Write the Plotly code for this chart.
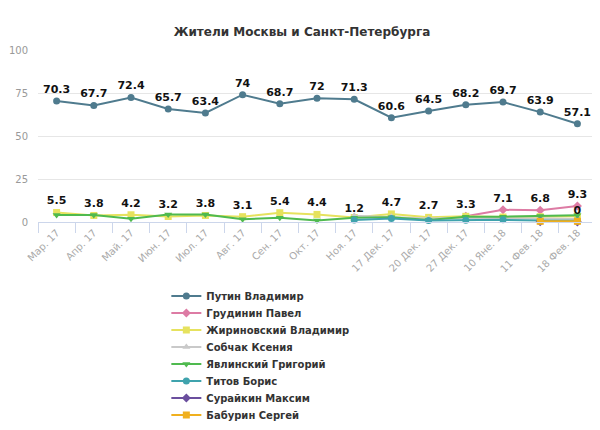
import plotly.graph_objects as go

categories = ["Мар. 17", "Апр. 17", "Май. 17", "Июн. 17", "Июл. 17", "Авг. 17", "Сен. 17",
              "Окт. 17", "Ноя. 17", "17 Дек. 17", "20 Дек. 17", "27 Дек. 17",
              "10 Яне. 18", "11 Фев. 18", "18 Фев. 18"]

N = None
putin = [70.3, 67.7, 72.4, 65.7, 63.4, 74, 68.7, 72, 71.3, 60.6, 64.5, 68.2, 69.7, 63.9, 57.1]
grudinin = [N, N, N, N, N, N, N, N, N, N, N, 3.3, 7.1, 6.8, 9.3]
zhirinovsky = [5.5, 3.8, 4.2, 3.2, 3.8, 3.1, 5.4, 4.4, 2.6, 4.7, 2.7, 3.3, 2.9, 3.1, 3.3]
sobchak = [N, N, N, N, N, N, N, N, 3.6, 3.0, 2.0, 2.4, 2.0, 2.0, 1.8]
yavlinsky = [4.0, 4.0, 1.9, 4.4, 4.4, 1.6, 2.5, 0.8, 2.4, 2.7, 1.2, 3.1, 3.1, 3.5, 3.9]
titov = [N, N, N, N, N, N, N, N, 1.2, 2.1, 0.9, 1.0, 1.3, 0.8, 0.7]
suraykin = [N, N, N, N, N, N, N, N, N, N, N, N, N, 0.2, 0]
baburin = [N, N, N, N, N, N, N, N, N, N, N, N, N, 0.4, 0.4]

series_names = ["Путин Владимир", "Грудинин Павел", "Жириновский Владимир", "Собчак Ксения",
                "Явлинский Григорий", "Титов Борис", "Сурайкин Максим", "Бабурин Сергей"]

# which points carry a visible data label
putin_labels = [str(v) for v in putin]
zhir_labels = ["5.5", "3.8", "4.2", "3.2", "3.8", "3.1", "5.4", "4.4", "", "4.7", "2.7", "3.3", "", "", ""]
grud_labels = ["", "", "", "", "", "", "", "", "", "", "", "", "7.1", "6.8", "9.3"]
titov_labels = ["", "", "", "", "", "", "", "", "1.2", "", "", "", "", "", ""]
sur_labels = ["", "", "", "", "", "", "", "", "", "", "", "", "", "", "0"]

colors = ["#4f7b8e", "#dd7ba4", "#e6e25e", "#c9c9c9", "#4fba4f", "#3fa3ad", "#6b4f9e", "#f0b01e"]
symbols = ["circle", "diamond", "square", "triangle-up", "triangle-down", "circle", "diamond", "square"]
data = [putin, grudinin, zhirinovsky, sobchak, yavlinsky, titov, suraykin, baburin]
labels = [putin_labels, grud_labels, zhir_labels, None, None, titov_labels, sur_labels, None]

W, H = 600, 430
OFF = 8  # page body margin
legend_first_center = 296 - OFF
legend_step = 17

fig = go.Figure()
layout_legends = {}
for i, (name, vals) in enumerate(zip(series_names, data)):
    lab = labels[i]
    lg = "legend" if i == 0 else f"legend{i + 1}"
    fig.add_trace(go.Scatter(
        x=categories, y=vals, name=name,
        mode="lines+markers+text" if lab else "lines+markers",
        text=lab, textposition="top center",
        textfont=dict(family="DejaVu Sans", size=11, color="#111111", weight="bold"),
        line=dict(color=colors[i], width=2),
        marker=dict(color=colors[i], size=7, symbol=symbols[i]),
        legend=lg, cliponaxis=False, showlegend=True,
    ))
    center = legend_first_center + i * legend_step
    layout_legends[lg] = dict(
        x=0.23, xanchor="left", yref="container", y=1 - center / H, yanchor="middle",
        font=dict(family="DejaVu Sans", size=10, color="#333333", weight="bold"),
        itemwidth=30, bgcolor="rgba(0,0,0,0)")

fig.update_layout(
    width=W, height=H,
    margin=dict(l=30, r=12, t=42, b=216, autoexpand=False),
    paper_bgcolor="white", plot_bgcolor="white",
    title=dict(text="<b>Жители Москвы и Санкт-Петербурга</b>", x=0.49, xanchor="center",
               y=0.945, yanchor="middle",
               font=dict(family="DejaVu Sans", size=12, color="#333333")),
    showlegend=True,
    xaxis=dict(type="category", range=[-0.5, 14.5], tickangle=-45,
               tickfont=dict(family="DejaVu Sans", size=10, color="#aaaaaa"),
               showline=True, linecolor="#ccd6eb", ticks="outside", tickson="boundaries",
               ticklen=10, tickcolor="#ccd6eb", showgrid=False),
    yaxis=dict(range=[0, 100], tickvals=[0, 25, 50, 75, 100],
               tickfont=dict(family="DejaVu Sans", size=10, color="#999999"),
               gridcolor="#e6e6e6", zeroline=False, ticks="", ticklabelstandoff=9),
    **layout_legends,
)

fig.write_html("out.html")
